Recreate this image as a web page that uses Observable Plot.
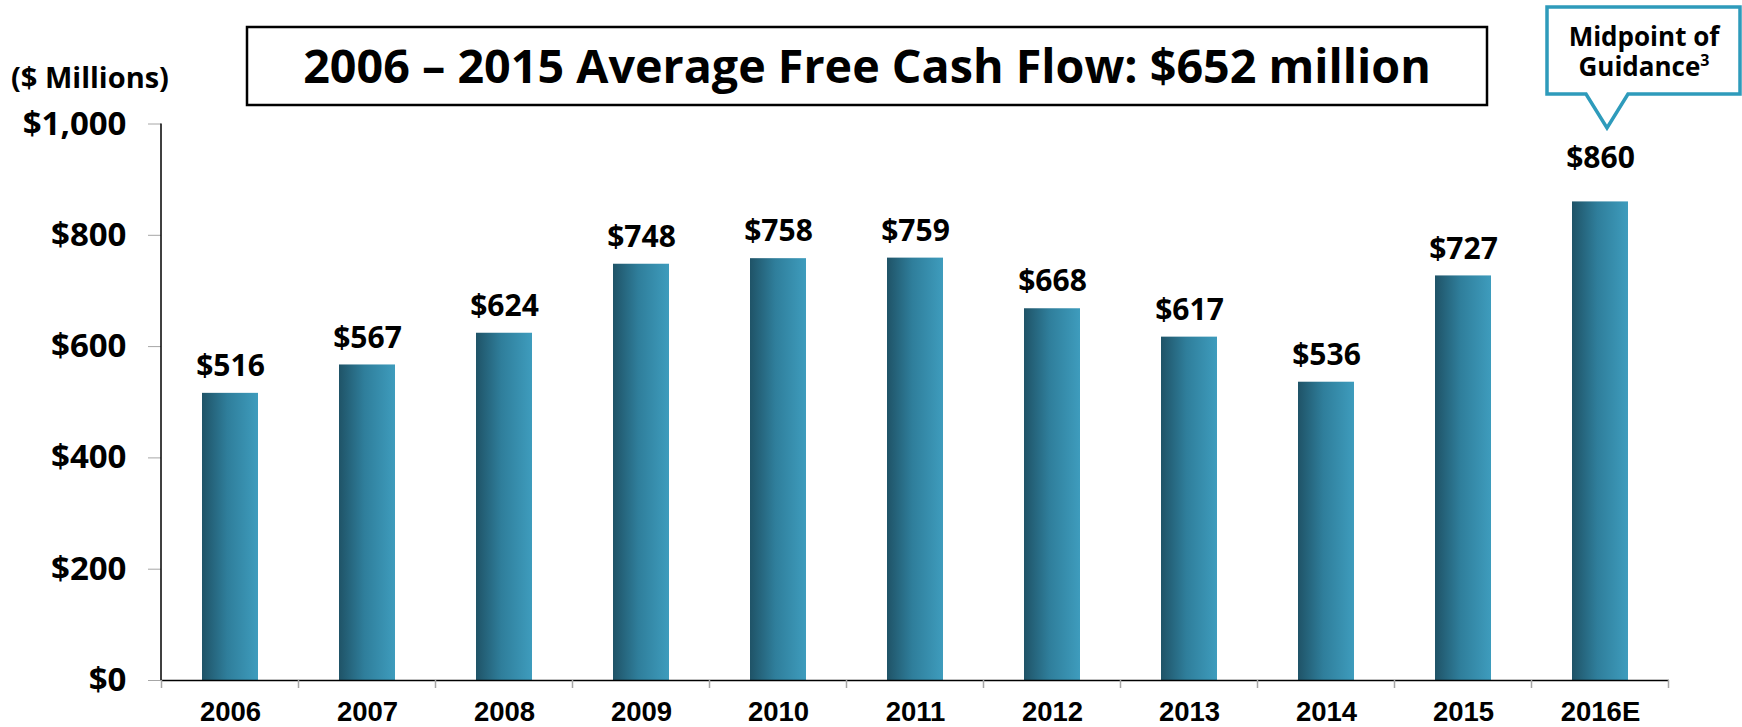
<!DOCTYPE html>
<html>
<head>
<meta charset="utf-8">
<script src="https://cdn.jsdelivr.net/npm/d3@7"></script>
<script src="https://cdn.jsdelivr.net/npm/@observablehq/plot@0.6"></script>
<style>
  html, body { margin: 0; padding: 0; background: white; }
  #chart svg { display: block; }
</style>
</head>
<body>
<div id="chart"></div>
<script>
const categories = ["2006", "2007", "2008", "2009", "2010", "2011", "2012", "2013", "2014", "2015", "2016E"];
const values = [516, 567, 624, 748, 758, 759, 668, 617, 536, 727, 860];
const yTicks = [0, 200, 400, 600, 800, 1000];
const titleText = "2006 \u2013 2015 Average Free Cash Flow: $652 million";
const unitText = "($ Millions)";
const calloutLines = ["Midpoint of", "Guidance"];
const estimateCategory = "2016E";

const data = categories.map((c, i) => ({cat: c, value: values[i]}));
const actual = data.filter(d => d.cat !== estimateCategory);
const estimate = data.filter(d => d.cat === estimateCategory);

const labelFont = "Open Sans";

const plot = Plot.plot({
  width: 1742,
  height: 727,
  marginLeft: 161,
  marginRight: 73,
  marginTop: 123.5,
  marginBottom: 47,
  style: {background: "white", color: "black", overflow: "visible"},
  x: {domain: categories, paddingInner: 0.59, paddingOuter: 0.295, axis: null, label: null},
  y: {domain: [0, 1000], axis: null, label: null},
  marks: [
    Plot.barY(data, {x: "cat", y: "value", fill: "url(#barGrad)"}),
    Plot.text(actual, {x: "cat", y: "value", text: d => "$" + d.value, dy: -27, fontSize: 30, fontWeight: 700,
      fontFamily: labelFont, fill: "black"}),
    Plot.text(estimate, {x: "cat", y: "value", text: d => "$" + d.value, dy: -44, fontSize: 30, fontWeight: 700,
      fontFamily: labelFont, fill: "black"}),
    Plot.axisY({ticks: yTicks, tickFormat: d => "$" + d3.format(",")(d), tickSize: 13, tickPadding: 22,
      fontSize: 33, fontWeight: 700, fontFamily: labelFont, stroke: "#a6a6a6", fill: "black", label: null}),
    Plot.axisX({tickSize: 0, tickPadding: 21, fontSize: 27.5, fontWeight: 700,
      fontFamily: "Liberation Sans", fill: "black", label: null}),
    Plot.ruleY([0], {stroke: "black", strokeWidth: 1.5})
  ]
});

document.getElementById("chart").appendChild(plot);

const svg = d3.select(plot);
const xs = plot.scale("x");
const ys = plot.scale("y");

// gradient for bars
const defs = svg.insert("defs", ":first-child");
const grad = defs.append("linearGradient").attr("id", "barGrad")
  .attr("x1", "0").attr("x2", "1").attr("y1", "0").attr("y2", "0");
grad.append("stop").attr("offset", "0").attr("stop-color", "#1f5367");
grad.append("stop").attr("offset", "0.45").attr("stop-color", "#2f7e9b");
grad.append("stop").attr("offset", "1").attr("stop-color", "#3e9cbd");

// y axis line
const xLeft = xs.range[0];
svg.append("line")
  .attr("x1", xLeft).attr("x2", xLeft)
  .attr("y1", ys.apply(1000)).attr("y2", ys.apply(0))
  .attr("stroke", "black").attr("stroke-width", 1.5);

// category boundary ticks
const gap = (xs.step - xs.bandwidth) / 2;
const bounds = categories.map(c => xs.apply(c) - gap).concat([xs.apply(categories[categories.length - 1]) + xs.bandwidth + gap]);
const y0 = ys.apply(0);
svg.append("g").selectAll("line").data(bounds).join("line")
  .attr("x1", d => d).attr("x2", d => d)
  .attr("y1", y0).attr("y2", y0 + 8)
  .attr("stroke", "#a6a6a6").attr("stroke-width", 1.5);

// title box
svg.append("rect")
  .attr("x", 247).attr("y", 27).attr("width", 1240).attr("height", 78)
  .attr("fill", "white").attr("stroke", "black").attr("stroke-width", 2.5);
const title = svg.append("text")
  .attr("x", 867).attr("y", 83)
  .attr("text-anchor", "middle")
  .attr("font-family", labelFont).attr("font-weight", 700).attr("font-size", 46)
  .attr("fill", "black")
  .text(titleText);
const natural = title.node().getComputedTextLength();
if (natural > 0) {
  const fs = Math.max(40, Math.min(50, 46 * 1128 / natural));
  title.attr("font-size", fs);
}

// units label
svg.append("text")
  .attr("x", 11).attr("y", 88)
  .attr("text-anchor", "start")
  .attr("font-family", labelFont).attr("font-weight", 700).attr("font-size", 29)
  .attr("fill", "black")
  .text(unitText);

// callout
svg.append("path")
  .attr("d", "M1547,7 H1740 V94 H1628 L1607,128 L1586,94 H1547 Z")
  .attr("fill", "white").attr("stroke", "#2e9bbb").attr("stroke-width", 3.5)
  .attr("stroke-linejoin", "miter");
svg.append("text")
  .attr("x", 1644).attr("y", 46)
  .attr("text-anchor", "middle")
  .attr("font-family", labelFont).attr("font-weight", 700).attr("font-size", 26)
  .attr("fill", "black")
  .text(calloutLines[0]);
const ct2 = svg.append("text")
  .attr("x", 1644).attr("y", 76)
  .attr("text-anchor", "middle")
  .attr("font-family", labelFont).attr("font-weight", 700).attr("font-size", 26)
  .attr("fill", "black");
ct2.append("tspan").text(calloutLines[1]);
ct2.append("tspan").attr("font-size", 16).attr("dy", -10).text("3");
</script>
</body>
</html>
